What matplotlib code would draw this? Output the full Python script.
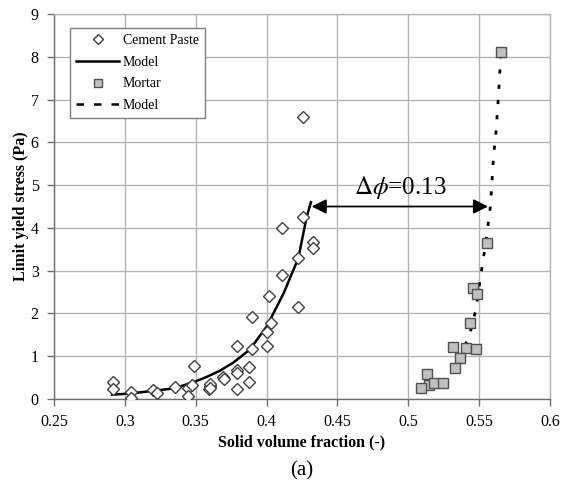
import matplotlib
matplotlib.use("Agg")
import matplotlib.pyplot as plt
from matplotlib.lines import Line2D

plt.rcParams['font.family'] = ['Liberation Serif', 'DejaVu Serif']
plt.rcParams['mathtext.fontset'] = 'stix'

# Cement paste measurements
paste_x = [0.2919, 0.2914, 0.3043, 0.3040, 0.3200, 0.3230, 0.3354, 0.3443, 0.3443,
           0.3472, 0.3490, 0.3600, 0.3597, 0.3600, 0.3600, 0.3695, 0.3700, 0.3789,
           0.3789, 0.3789, 0.3878, 0.3878, 0.3789, 0.3900, 0.3900, 0.4000, 0.4000,
           0.4030, 0.4020, 0.4106, 0.4106, 0.4219, 0.4219, 0.4259, 0.4325, 0.4325,
           0.4257]
paste_y = [0.40, 0.23, 0.16, 0.02, 0.21, 0.15, 0.29, 0.25, 0.07,
           0.33, 0.78, 0.30, 0.23, 0.35, 0.25, 0.52, 0.47, 0.68,
           0.60, 0.23, 0.74, 0.39, 1.24, 1.17, 1.92, 1.24, 1.57,
           1.77, 2.41, 2.91, 4.00, 2.16, 3.29, 4.25, 3.68, 3.54,
           6.59]

# Cement paste model
paste_model_x = [0.291, 0.304, 0.320, 0.335, 0.349, 0.358, 0.367, 0.3765, 0.388,
                 0.400, 0.412, 0.4224, 0.4283, 0.4313]
paste_model_y = [0.10, 0.13, 0.19, 0.25, 0.40, 0.52, 0.66, 0.85, 1.15,
                 1.69, 2.47, 3.29, 4.26, 4.60]

# Mortar measurements
mortar_x = [0.5652, 0.5558, 0.5459, 0.5483, 0.5436, 0.5318, 0.5408, 0.5478, 0.5365,
            0.5330, 0.5134, 0.5148, 0.5181, 0.5247, 0.5090]
mortar_y = [8.11, 3.65, 2.59, 2.45, 1.77, 1.22, 1.20, 1.16, 0.95,
            0.72, 0.58, 0.33, 0.37, 0.37, 0.25]

# Mortar model
mortar_model_x = [0.5400, 0.5436, 0.5478, 0.5505, 0.5530, 0.5555, 0.5578, 0.5590,
                  0.5601, 0.5620, 0.5636, 0.5652]
mortar_model_y = [1.25, 1.55, 2.10, 2.75, 3.28, 3.87, 4.46, 5.04,
                  5.66, 6.28, 7.06, 8.00]

x_ticks = [0.25, 0.3, 0.35, 0.4, 0.45, 0.5, 0.55, 0.6]
x_ticklabels = ['0.25', '0.3', '0.35', '0.4', '0.45', '0.5', '0.55', '0.6']
y_ticks = list(range(0, 10))

arrow_left = 0.4318
arrow_right = 0.5563
arrow_y = 4.5
delta_label = r'$\Delta\phi$=0.13'

fig = plt.figure(figsize=(5.61, 5.03), dpi=100)
ax = fig.add_axes([54/561, 1-399/503, (550-54)/561, (399-14)/503])

grid_c = '#b4b4b4'
ax.set_xlim(0.25, 0.6)
ax.set_ylim(0, 9)
ax.set_xticks(x_ticks)
ax.set_xticklabels(x_ticklabels)
ax.set_yticks(y_ticks)
ax.grid(True, color=grid_c, linewidth=1.0)
ax.set_axisbelow(True)
for s in ['top', 'right']:
    ax.spines[s].set_color(grid_c)
    ax.spines[s].set_linewidth(1.0)
for s in ['left', 'bottom']:
    ax.spines[s].set_color('#6e6e6e')
    ax.spines[s].set_linewidth(1.0)
ax.tick_params(axis='both', direction='out', length=5, width=1, color='#6e6e6e',
               labelsize=11.5, pad=6)

ax.plot(paste_model_x, paste_model_y, color='black', linewidth=1.8, zorder=3)
ax.plot(mortar_model_x, mortar_model_y, color='black', linewidth=2.0,
        linestyle=(0, (1.5, 4.0)), zorder=3)
ax.plot(paste_x, paste_y, linestyle='none', marker='D', markersize=6,
        markerfacecolor='white', markeredgecolor='#404040', markeredgewidth=1.0, zorder=4)
ax.plot(mortar_x, mortar_y, linestyle='none', marker='s', markersize=7,
        markerfacecolor='#c0c0c0', markeredgecolor='#505050', markeredgewidth=1.0, zorder=4)

ax.annotate('', xy=(arrow_left, arrow_y), xytext=(arrow_right, arrow_y),
            arrowprops=dict(arrowstyle='<|-|>', color='black', lw=1.3,
                            mutation_scale=22, shrinkA=0, shrinkB=0), zorder=5)
ax.text((arrow_left + arrow_right) / 2, 4.62, delta_label, fontsize=18,
        ha='center', va='bottom', zorder=5)

ax.set_xlabel('Solid volume fraction (-)', fontsize=11.5, fontweight='bold', labelpad=3)
ax.set_ylabel('Limit yield stress (Pa)', fontsize=11.5, fontweight='bold', labelpad=1)

handles = [
    Line2D([], [], linestyle='none', marker='D', markersize=5, markerfacecolor='white',
           markeredgecolor='#404040', markeredgewidth=1.0),
    Line2D([], [], color='black', linewidth=1.8),
    Line2D([], [], linestyle='none', marker='s', markersize=6, markerfacecolor='#c0c0c0',
           markeredgecolor='#505050', markeredgewidth=1.0),
    Line2D([], [], color='black', linewidth=1.8, linestyle=(0, (3, 4))),
]
labels = ['Cement Paste', 'Model', 'Mortar', 'Model']
leg = ax.legend(handles, labels, loc='upper left', bbox_to_anchor=(16/496, 1-14/385),
                fontsize=10, frameon=True, fancybox=False, edgecolor='#808080',
                framealpha=1, handlelength=3.1, handletextpad=0.25, labelspacing=0.62,
                borderpad=0.45, borderaxespad=0)
leg.get_frame().set_linewidth(1.0)

fig.text(302/561, 1-471/503, '(a)', fontsize=15, ha='center', va='center')

fig.savefig('out.png', dpi=100)
